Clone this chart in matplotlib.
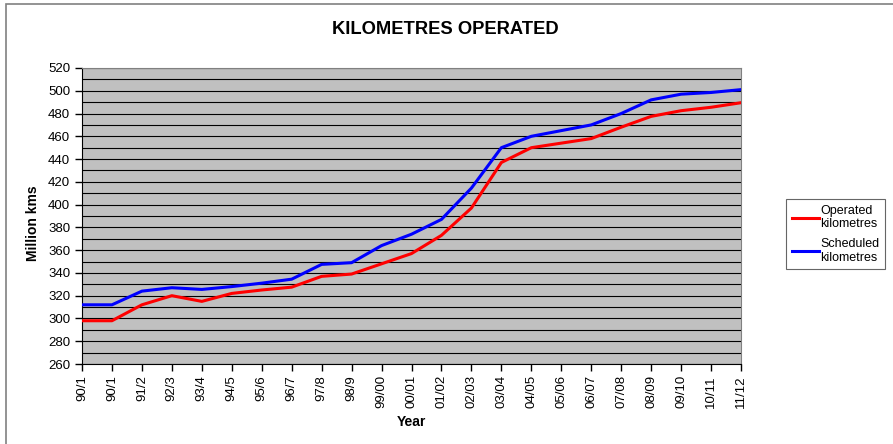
import numpy as np
import matplotlib
matplotlib.use('Agg')
from matplotlib import pyplot as plt
from matplotlib.patches import Rectangle

plt.rcParams['font.family'] = ['Liberation Sans', 'DejaVu Sans']

years = ['90/1', '90/1', '91/2', '92/3', '93/4', '94/5', '95/6', '96/7', '97/8', '98/9',
         '99/00', '00/01', '01/02', '02/03', '03/04', '04/05', '05/06', '06/07', '07/08',
         '08/09', '09/10', '10/11', '11/12']
operated = [298, 298, 312, 320, 315, 322, 325, 327.5, 337, 339,
            348, 357, 373, 397, 437, 450, 454, 458, 468,
            477.5, 482.5, 485.5, 489.5]
scheduled = [312, 312, 324, 327, 325.5, 328, 331, 334.5, 347.5, 349,
             364, 374, 387, 414.5, 450, 460, 465, 470, 480,
             492, 497, 498.5, 501]

W, H = 893, 444
fig = plt.figure(figsize=(W / 100, H / 100), dpi=100)
fig.patch.set_facecolor('white')

# outer chart frame
fig.patches.append(Rectangle((6 / W, -0.1), 1.2, (H - 4) / H + 0.1, transform=fig.transFigure,
                             fill=False, edgecolor='#808080', linewidth=1.2))

ax = fig.add_axes([82 / W, (H - 364) / H, (741 - 82) / W, (364 - 68) / H])
ax.set_facecolor('#c0c0c0')

x = np.arange(len(years))
ax.plot(x, operated, color='#ff0000', linewidth=2.2, label='Operated\nkilometres', zorder=3)
ax.plot(x, scheduled, color='#0000ff', linewidth=2.2, label='Scheduled\nkilometres', zorder=3)

ax.set_xlim(0, len(years) - 1)
ax.set_ylim(260, 520)
ax.set_yticks(np.arange(260, 521, 20))
ax.set_yticks(np.arange(270, 520, 20), minor=True)
ax.grid(axis='y', which='both', color='black', linewidth=0.8)
ax.set_axisbelow(True)
ax.set_xticks(x)
ax.set_xticklabels(years, rotation=90, fontsize=9.5)
ax.tick_params(axis='y', which='major', labelsize=9.5, direction='out', length=5, width=1)
ax.tick_params(axis='y', which='minor', length=0)
ax.tick_params(axis='x', direction='out', length=5, width=1, pad=3)

for s in ['left', 'bottom']:
    ax.spines[s].set_color('black')
for s in ['top', 'right']:
    ax.spines[s].set_color('#808080')

ax.set_xlabel('Year', fontsize=10, fontweight='bold', labelpad=5)
ax.set_ylabel('Million kms', fontsize=10, fontweight='bold')
ax.yaxis.set_label_coords((40 - 82) / 659, (364 - 223) / 296)

fig.text(445 / W, 1 - 30 / H, 'KILOMETRES OPERATED', ha='center', va='center',
         fontsize=13.2, fontweight='bold')

leg = fig.legend(loc='upper left', bbox_to_anchor=(786 / W, 1 - 199 / H), fontsize=9,
                 frameon=True, fancybox=False, edgecolor='#404040', handlelength=2.2,
                 handletextpad=0.1, borderpad=0.45, labelspacing=0.6, borderaxespad=0)
leg.get_frame().set_linewidth(0.8)

fig.savefig('out.png', dpi=100)
